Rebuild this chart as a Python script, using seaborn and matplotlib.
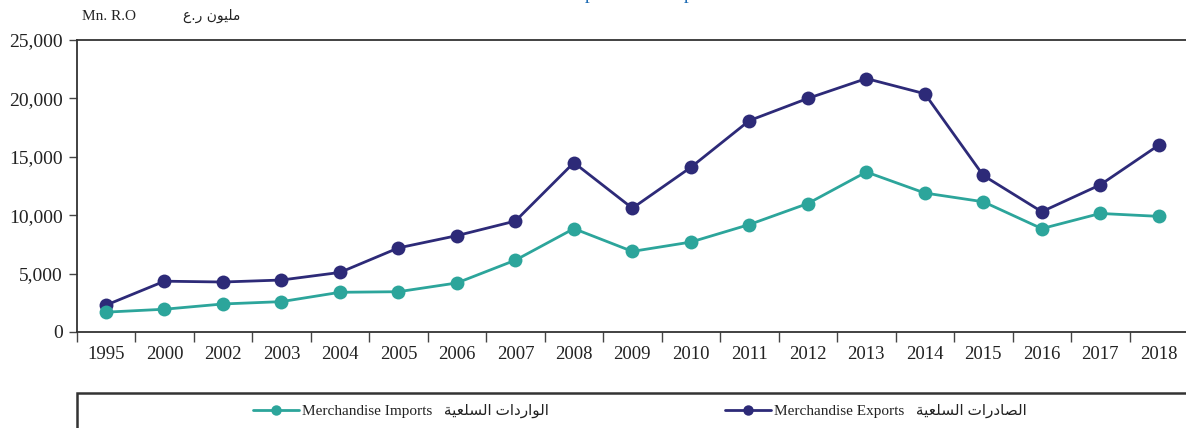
import numpy as np
import pandas as pd
import matplotlib.pyplot as plt
import seaborn as sns
from matplotlib.lines import Line2D
from matplotlib.patches import Rectangle
from matplotlib.ticker import FixedLocator, FuncFormatter

years = ['1995', '2000', '2002', '2003', '2004', '2005', '2006', '2007', '2008', '2009',
         '2010', '2011', '2012', '2013', '2014', '2015', '2016', '2017', '2018']
exports = [2300, 4350, 4280, 4450, 5100, 7200, 8250, 9500, 14500, 10600,
           14100, 18100, 20000, 21700, 20400, 13400, 10300, 12600, 16000]
imports = [1700, 1950, 2400, 2600, 3400, 3450, 4200, 6150, 8850, 6900,
           7700, 9200, 11000, 13700, 11900, 11150, 8850, 10150, 9900]
y_ticks = [0, 5000, 10000, 15000, 20000, 25000]

NAVY = '#2d2a78'
TEAL = '#2ca59b'

# presentation forms (isolated, final, initial, medial) for the few letters used
FORMS = {
    'ا': (0xFE8D, 0xFE8E, None, None),
    'ل': (0xFEDD, 0xFEDE, 0xFEDF, 0xFEE0),
    'و': (0xFEED, 0xFEEE, None, None),
    'ر': (0xFEAD, 0xFEAE, None, None),
    'د': (0xFEA9, 0xFEAA, None, None),
    'ت': (0xFE95, 0xFE96, 0xFE97, 0xFE98),
    'س': (0xFEB1, 0xFEB2, 0xFEB3, 0xFEB4),
    'ع': (0xFEC9, 0xFECA, 0xFECB, 0xFECC),
    'ي': (0xFEF1, 0xFEF2, 0xFEF3, 0xFEF4),
    'ة': (0xFE93, 0xFE94, None, None),
    'ص': (0xFEB9, 0xFEBA, 0xFEBB, 0xFEBC),
    'م': (0xFEE1, 0xFEE2, 0xFEE3, 0xFEE4),
    'ن': (0xFEE5, 0xFEE6, 0xFEE7, 0xFEE8),
}


def arabic(s):
    # shape letters and put them in visual (left to right) order
    out = []
    for i, ch in enumerate(s):
        if ch not in FORMS:
            out.append(ch)
            continue
        prev = s[i - 1] if i > 0 else None
        nxt = s[i + 1] if i + 1 < len(s) else None
        iso, fin, ini, med = FORMS[ch]
        join_prev = prev in FORMS and FORMS[prev][2] is not None
        join_next = nxt in FORMS and ini is not None
        if join_prev and join_next:
            out.append(chr(med))
        elif join_prev:
            out.append(chr(fin))
        elif join_next:
            out.append(chr(ini))
        else:
            out.append(chr(iso))
    return ''.join(reversed(out))


df = pd.DataFrame({
    'year': years * 2,
    'value': exports + imports,
    'series': ['Exports'] * len(years) + ['Imports'] * len(years),
})

sns.set_theme(style='white')
plt.rcParams['font.family'] = ['Liberation Serif', 'DejaVu Sans']

fig = plt.figure(figsize=(11.86, 4.28), dpi=100)
ax = fig.add_axes([76.75 / 1186, 1 - 332 / 428, 1111.25 / 1186, 292 / 428])

sns.lineplot(data=df, x='year', y='value', hue='series', hue_order=['Exports', 'Imports'],
             palette={'Exports': NAVY, 'Imports': TEAL}, marker='o', markersize=10,
             markeredgewidth=0, linewidth=2, sort=False, legend=False, ax=ax)

ax.set_xlim(-0.5, len(years) - 0.5)
ax.set_ylim(0, 25000)
ax.set_xlabel('')
ax.set_ylabel('')

ax.set_yticks(y_ticks)
ax.yaxis.set_major_formatter(FuncFormatter(lambda v, p: f'{int(v):,}'))
ax.set_xticks(range(len(years)))
ax.set_xticklabels(years)
ax.xaxis.set_minor_locator(FixedLocator(np.arange(-0.5, len(years), 1.0)))
ax.tick_params(axis='x', which='major', length=0, pad=10, labelsize=13.5, labelcolor='#222222')
ax.tick_params(axis='x', which='minor', bottom=True, length=7, width=1, color='#444444')
ax.tick_params(axis='y', left=True, length=6, width=1, color='#444444', pad=4,
               labelsize=14, labelcolor='#222222')

for side in ['left', 'bottom', 'top']:
    ax.spines[side].set_color('#333333')
    ax.spines[side].set_linewidth(1.3)
ax.spines['right'].set_visible(False)

# unit labels
fig.text(82 / 1186, 1 - 16 / 428, 'Mn. R.O', fontsize=11, color='#222222', va='center')
fig.text(183 / 1186, 1 - 16 / 428, arabic('مليون ر.ع'), fontsize=10, color='#222222',
         va='center', family=['DejaVu Sans'])

# title, mostly outside the visible area as in the reference crop
fig.text(590 / 1186, 1 + 0.6 / 428, 'Merchandise Imports and Exports', fontsize=14,
         color='#1f6db5', ha='center', va='baseline')

# legend box running off the bottom and right edges
fig.patches.append(Rectangle((77 / 1186, -0.2), 1.2, 0.2 + 1 - 393 / 428,
                             transform=fig.transFigure, fill=False,
                             edgecolor='#333333', linewidth=1.8))

handles = [
    Line2D([], [], color=TEAL, marker='o', markersize=7.5, markeredgewidth=0, linewidth=2),
    Line2D([], [], color=NAVY, marker='o', markersize=7.5, markeredgewidth=0, linewidth=2),
]
labels = [
    'Merchandise Imports   ' + arabic('الواردات السلعية'),
    'Merchandise Exports   ' + arabic('الصادرات السلعية'),
]
fig.legend(handles, labels, loc='center', bbox_to_anchor=(640 / 1186, 1 - 411 / 428),
           ncol=2, frameon=False, fontsize=11, handlelength=3.0, handletextpad=0.2,
           columnspacing=11.5, labelcolor='#222222')

fig.savefig('out.png', dpi=100)
